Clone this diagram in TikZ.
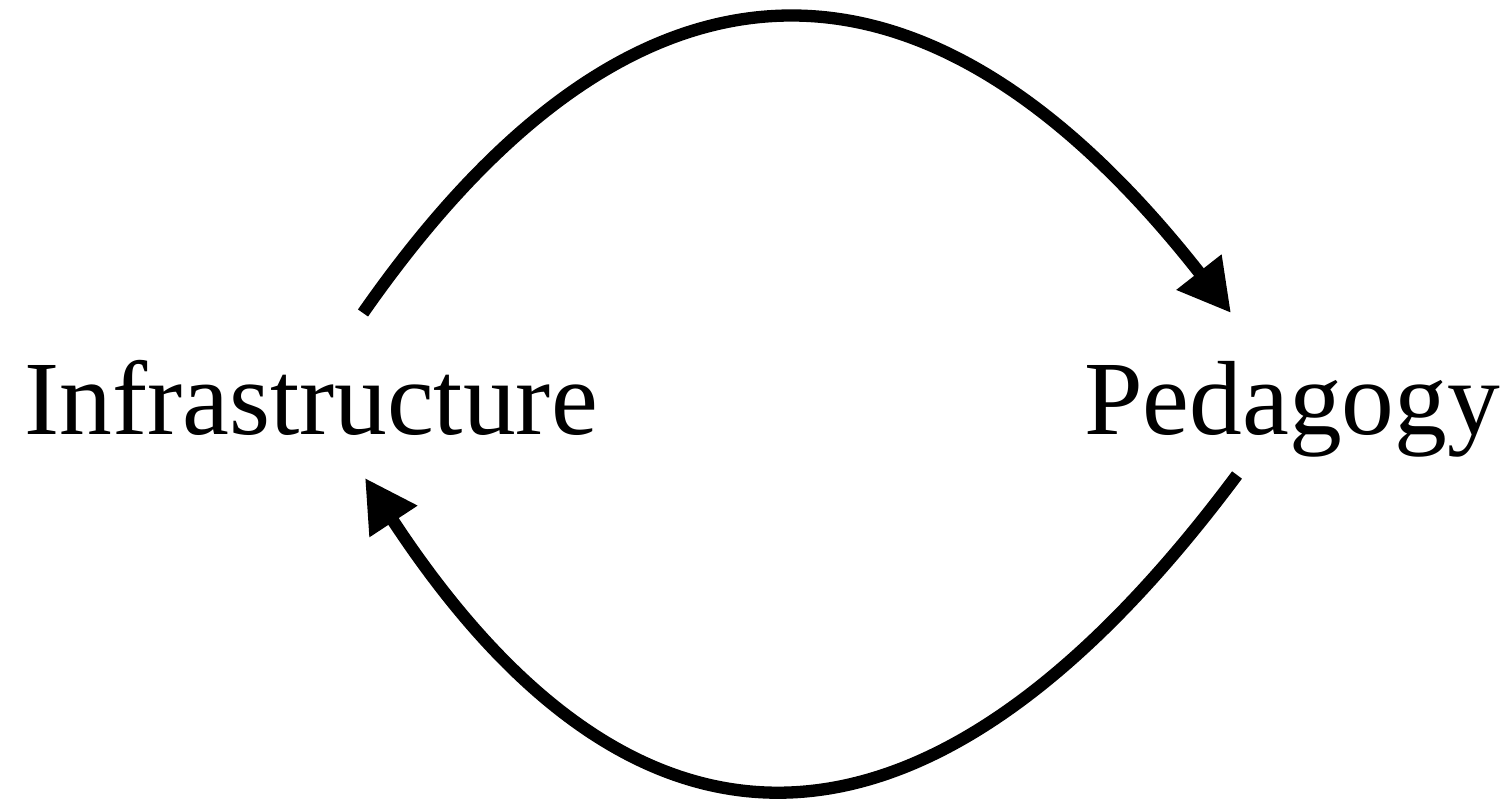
\documentclass[tikz,border=0pt]{standalone}
\usepackage{fontspec}
\setmainfont{Liberation Serif}
\usetikzlibrary{arrows.meta}
\begin{document}
\begin{tikzpicture}[x=0.02cm, y=0.02cm, font=\fontsize{60}{72}\selectfont, line join=round, >={Triangle[length=1.04cm,width=1.08cm]}]
	\def\W{1509}\def\H{799}
	\useasboundingbox (0,0) rectangle (\W,\H);
	\tikzset{cyc/.style={->, line width=7pt}}
	\node[anchor=base, inner sep=0pt] (infra) at (311,364) {Infrastructure};
	\node[anchor=base, inner sep=0pt] (peda) at (1292,364) {Pedagogy};
	
	% top: infrastructure -> pedagogy
	\draw[cyc] ([shift={(52,122)}]infra.base) .. controls (635,876) and (925,876) .. ([shift={(-61,122)}]peda.base);
	% bottom: pedagogy -> infrastructure
	\draw[cyc] ([shift={(-55,-40)}]peda.base) .. controls (927,-92) and (636,-92) .. ([shift={(54,-43)}]infra.base);
\end{tikzpicture}
\end{document}
